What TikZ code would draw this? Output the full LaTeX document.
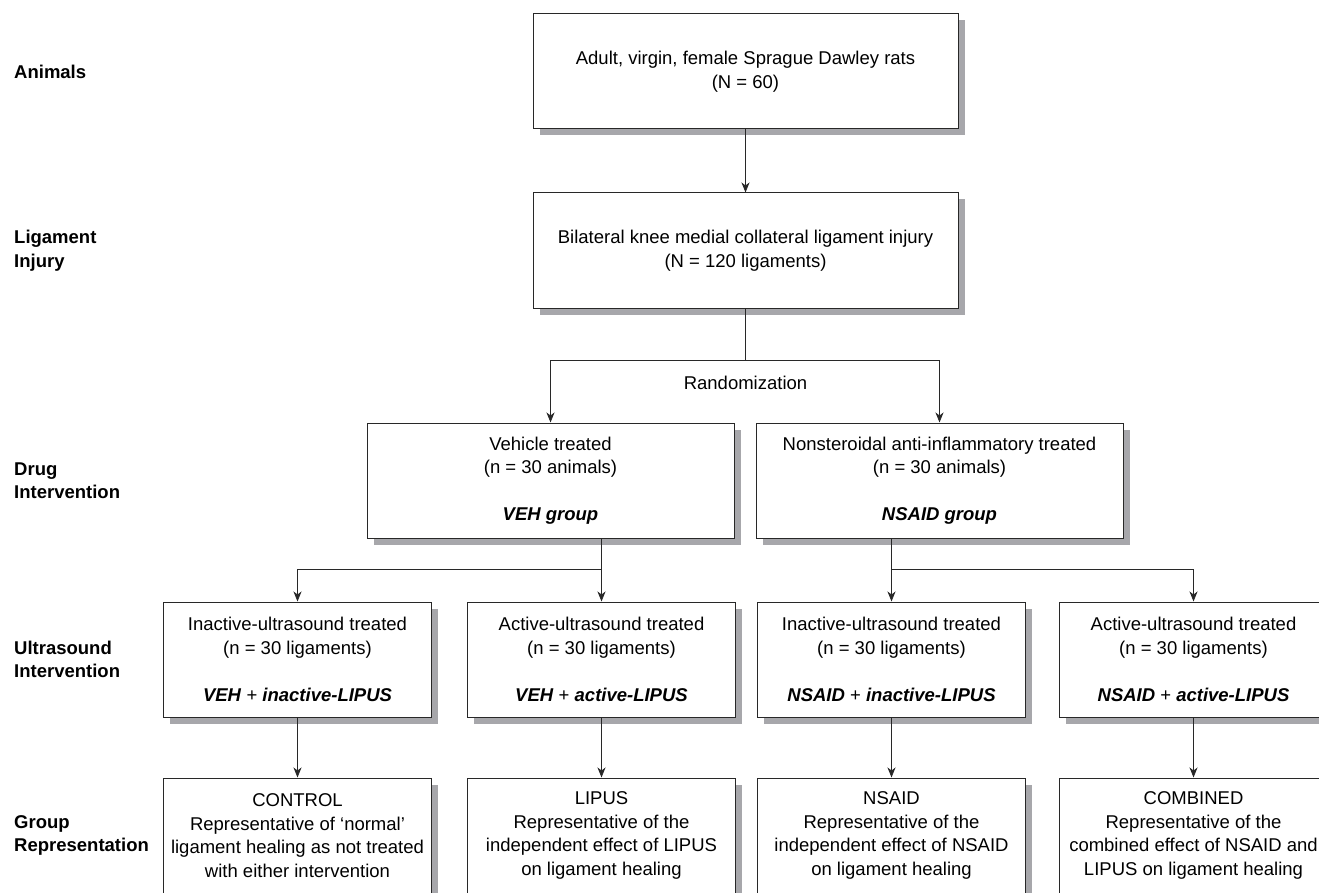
\documentclass[tikz,border=0pt]{standalone}
\usepackage{fontspec}
\setmainfont{Liberation Sans}
\usetikzlibrary{arrows.meta, positioning, shadows}
\definecolor{shadowgray}{RGB}{167,167,171}
\definecolor{inkgray}{RGB}{40,40,40}
\newcommand{\bfit}[1]{\textbf{\textit{#1}}}
\tikzset{
  flowbox/.style={draw=inkgray, line width=1pt, fill=white, align=center,
    minimum height=115pt, inner sep=2pt, font=\fontsize{18.5}{23.5}\selectfont,
    drop shadow={shadow xshift=6.5pt, shadow yshift=-6.5pt, fill=shadowgray, opacity=1}},
  widebox/.style={flowbox, minimum width=425pt},
  drugbox/.style={flowbox, minimum width=367pt},
  usbox/.style={flowbox, minimum width=268pt},
  rowlabel/.style={anchor=west, align=left, inner sep=0pt, font=\fontsize{18.5}{23.5}\selectfont\bfseries},
  flowline/.style={draw=inkgray, line width=0.8pt},
  arr/.style={flowline, -{Stealth[length=10pt, width=8pt, inset=3pt]}}
}
\begin{document}
\begin{tikzpicture}[x=1pt, y=-1pt]
\useasboundingbox (0,0) rectangle (1319,893);
% study design boxes
\node[widebox] (rats) at (745.5,71.5) {Adult, virgin, female Sprague Dawley rats\\(N = 60)};
\node[widebox, below=63pt of rats] (injury) {Bilateral knee medial collateral ligament injury\\(N = 120 ligaments)};
\node[drugbox] (veh) at (550.5,480.5) {Vehicle treated\\(n = 30 animals)\\[23.5pt]\bfit{VEH group}};
\node[drugbox, right=21pt of veh] (nsaid) {Nonsteroidal anti-inflammatory treated\\(n = 30 animals)\\[23.5pt]\bfit{NSAID group}};
\node[usbox] (ina1) at (297.5,659.5) {Inactive-ultrasound treated\\(n = 30 ligaments)\\[23.5pt]\bfit{VEH} + \bfit{inactive-LIPUS}};
\node[usbox, right=35pt of ina1] (act1) {Active-ultrasound treated\\(n = 30 ligaments)\\[23.5pt]\bfit{VEH} + \bfit{active-LIPUS}};
\node[usbox, right=21pt of act1] (ina2) {Inactive-ultrasound treated\\(n = 30 ligaments)\\[23.5pt]\bfit{NSAID} + \bfit{inactive-LIPUS}};
\node[usbox, right=33pt of ina2] (act2) {Active-ultrasound treated\\(n = 30 ligaments)\\[23.5pt]\bfit{NSAID} + \bfit{active-LIPUS}};
% group representation
\node[usbox, below=60pt of ina1] (ctrl) {CONTROL\\Representative of ‘normal’\\ligament healing as not treated\\with either intervention};
\node[usbox, below=60pt of act1] (lipus) {LIPUS\\Representative of the\\independent effect of LIPUS\\on ligament healing};
\node[usbox, below=60pt of ina2] (nsaidrep) {NSAID\\Representative of the\\independent effect of NSAID\\on ligament healing};
\node[usbox, below=60pt of act2] (comb) {COMBINED\\Representative of the\\combined effect of NSAID and\\LIPUS on ligament healing};
% row labels
\coordinate (lblx) at (14,0);
\node[rowlabel] (lanimals) at (lblx |- rats) {Animals};
\node[rowlabel] (linjury) at (lblx |- injury) {Ligament\\Injury};
\node[rowlabel] (ldrug) at (lblx |- veh) {Drug\\Intervention};
\node[rowlabel] (lus) at (lblx |- ina1) {Ultrasound\\Intervention};
\node[rowlabel] (lgroup) at (lblx |- ctrl) {Group\\Representation};
% connectors
\draw[arr] (rats) -- (injury);
\coordinate[below=52pt of injury] (rsplit);
\draw[flowline] (injury) -- (rsplit);
\draw[arr] (rsplit) -| (veh);
\draw[arr] (rsplit) -| (nsaid);
\node[below=15pt of rsplit, inner sep=0pt, font=\fontsize{18.5}{23.5}\selectfont] (randlbl) {Randomization};
\coordinate[below=31pt of veh] (vbranch);
\draw[arr] (veh.south -| act1) -- (act1);
\draw[arr] (act1 |- vbranch) -| (ina1);
\coordinate[below=31pt of nsaid] (nbranch);
\draw[arr] (nsaid.south -| ina2) -- (ina2);
\draw[arr] (ina2 |- nbranch) -| (act2);
\foreach \from/\to in {ina1/ctrl, act1/lipus, ina2/nsaidrep, act2/comb}
  \draw[arr] (\from) -- (\to);
\end{tikzpicture}
\end{document}
